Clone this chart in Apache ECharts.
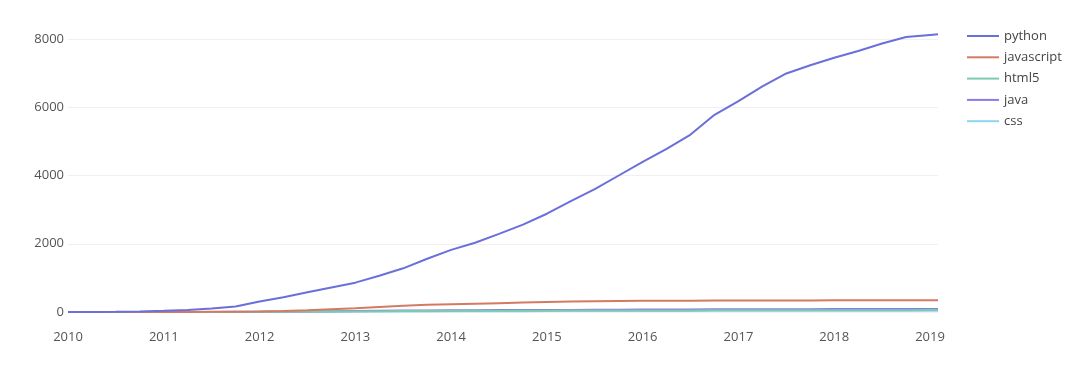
<!DOCTYPE html>
<html>
<head>
<meta charset="utf-8">
<script src="https://cdn.jsdelivr.net/npm/echarts@6/dist/echarts.min.js"></script>
<style>html,body{margin:0;padding:0;background:#fff}#c{width:1080px;height:373px}</style>
</head>
<body>
<div id="c"></div>
<script>
// quarterly dates (YYYY-MM), final point early 2019
var dates = [
  '2010-01','2010-04','2010-07','2010-10',
  '2011-01','2011-04','2011-07','2011-10',
  '2012-01','2012-04','2012-07','2012-10',
  '2013-01','2013-04','2013-07','2013-10',
  '2014-01','2014-04','2014-07','2014-10',
  '2015-01','2015-04','2015-07','2015-10',
  '2016-01','2016-04','2016-07','2016-10',
  '2017-01','2017-04','2017-07','2017-10',
  '2018-01','2018-04','2018-07','2018-10',
  '2019-01','2019-02'
];
var python = [0,2,8,18, 35,60,100,160, 310,430,580,720, 860,1060,1280,1560, 1820,2030,2290,2560, 2880,3250,3600,4000, 4400,4780,5200,5780, 6180,6610,6990,7230, 7450,7650,7870,8060, 8120,8140];
var javascript = [0,0,0,1, 2,3,5,8, 15,30,50,80, 110,145,180,210, 230,245,260,275, 290,305,315,322, 328,331,333,335, 337,338,339,340, 341,342,343,344, 345,345];
var html5 = [0,0,0,0, 0,1,2,3, 5,8,11,14, 18,22,26,30, 33,35,37,39, 40,42,43,44, 45,46,47,48, 49,50,51,51, 52,53,53,54, 55,55];
var java = [0,0,0,0, 1,2,3,4, 6,10,15,22, 30,36,42,46, 50,53,56,58, 60,62,64,66, 70,72,74,77, 80,81,82,83, 85,86,87,88, 90,90];
var css = [0,0,0,0, 0,1,1,2, 3,5,7,9, 11,13,15,17, 20,21,23,24, 26,27,28,29, 30,31,32,33, 34,35,35,36, 37,38,38,39, 40,40];
var yTicks = [0,2000,4000,6000,8000];
var seriesNames = ['python','javascript','html5','java','css'];
var colors = ['#6a6fd9','#d37a62','#7ecaae','#8a79e6','#8fd3f2'];

function toYear(s){var p=s.split('-');return +p[0]+(+p[1]-1)/12;}
var xs = dates.map(toYear);
function pts(arr){return arr.map(function(v,i){return [xs[i],v];});}
var all = [python,javascript,html5,java,css];

var chart = echarts.init(document.getElementById('c'));
chart.setOption({
  animation:false,
  backgroundColor:'#fff',
  color:colors,
  textStyle:{fontFamily:'Open Sans'},
  grid:{left:68,right:142,top:39,bottom:61},
  legend:{
    orient:'vertical',left:962,top:24,
    icon:'rect',itemWidth:32,itemHeight:2,itemGap:7.3,
    textStyle:{fontSize:13,lineHeight:14,height:14,color:'#444',fontFamily:'Open Sans'},
    data:seriesNames
  },
  xAxis:{
    type:'value',min:2010,max:xs[xs.length-1],interval:1,
    axisLine:{show:false},axisTick:{show:false},splitLine:{show:false},
    axisLabel:{margin:19,fontSize:13,color:'#555',fontFamily:'Open Sans',
      formatter:function(v){return Math.abs(v-Math.round(v))<1e-6?String(Math.round(v)):'';}}
  },
  yAxis:{
    type:'value',min:yTicks[0],max:yTicks[yTicks.length-1],interval:2000,
    axisLine:{show:false},axisTick:{show:false},
    splitLine:{lineStyle:{color:'#f0f0f2',width:1}},
    axisLabel:{margin:4,fontSize:13,color:'#555',fontFamily:'Open Sans',
      formatter:function(v){return String(v);}}
  },
  series:seriesNames.map(function(n,i){
    return {name:n,type:'line',symbol:'none',clip:false,z:10-i,
      lineStyle:{width:2},data:pts(all[i])};
  })
});
</script>
</body>
</html>
